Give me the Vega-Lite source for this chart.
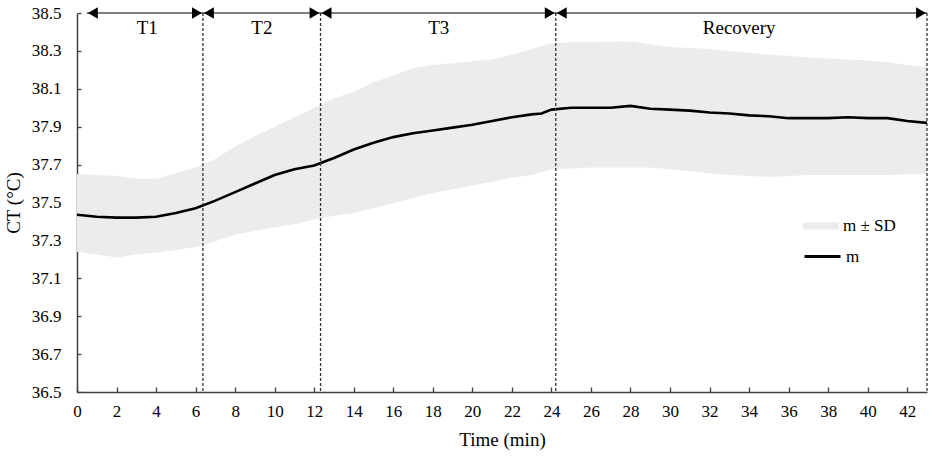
{
  "$schema": "https://vega.github.io/schema/vega-lite/v6.json",
  "width": 850,
  "height": 379,
  "autosize": {"type": "none"},
  "padding": {"left": 77, "top": 13, "right": 8, "bottom": 65},
  "background": "white",
  "datasets": {
    "ct": [
      {"t": 0, "m": 37.435, "lo": 37.24, "hi": 37.65},
      {"t": 1, "m": 37.425, "lo": 37.225, "hi": 37.645},
      {"t": 2, "m": 37.42, "lo": 37.21, "hi": 37.64},
      {"t": 3, "m": 37.42, "lo": 37.225, "hi": 37.625},
      {"t": 4, "m": 37.425, "lo": 37.235, "hi": 37.625},
      {"t": 5, "m": 37.445, "lo": 37.25, "hi": 37.655},
      {"t": 6, "m": 37.47, "lo": 37.265, "hi": 37.685},
      {"t": 7, "m": 37.51, "lo": 37.295, "hi": 37.73},
      {"t": 8, "m": 37.555, "lo": 37.33, "hi": 37.795},
      {"t": 9, "m": 37.6, "lo": 37.35, "hi": 37.85},
      {"t": 10, "m": 37.645, "lo": 37.37, "hi": 37.9},
      {"t": 11, "m": 37.675, "lo": 37.385, "hi": 37.95},
      {"t": 12, "m": 37.695, "lo": 37.41, "hi": 38.0},
      {"t": 13, "m": 37.735, "lo": 37.43, "hi": 38.05},
      {"t": 14, "m": 37.78, "lo": 37.445, "hi": 38.085},
      {"t": 15, "m": 37.815, "lo": 37.47, "hi": 38.135},
      {"t": 16, "m": 37.845, "lo": 37.495, "hi": 38.17},
      {"t": 17, "m": 37.865, "lo": 37.525, "hi": 38.21},
      {"t": 18, "m": 37.88, "lo": 37.55, "hi": 38.225},
      {"t": 19, "m": 37.895, "lo": 37.57, "hi": 38.235},
      {"t": 20, "m": 37.91, "lo": 37.59, "hi": 38.245},
      {"t": 21, "m": 37.93, "lo": 37.61, "hi": 38.255},
      {"t": 22, "m": 37.95, "lo": 37.63, "hi": 38.28},
      {"t": 23, "m": 37.965, "lo": 37.645, "hi": 38.31},
      {"t": 23.5, "m": 37.97, "lo": 37.66, "hi": 38.325},
      {"t": 24, "m": 37.99, "lo": 37.675, "hi": 38.34},
      {"t": 25, "m": 38.0, "lo": 37.68, "hi": 38.345},
      {"t": 26, "m": 38.0, "lo": 37.685, "hi": 38.345},
      {"t": 27, "m": 38.0, "lo": 37.685, "hi": 38.35},
      {"t": 28, "m": 38.01, "lo": 37.685, "hi": 38.35},
      {"t": 29, "m": 37.995, "lo": 37.685, "hi": 38.335},
      {"t": 30, "m": 37.99, "lo": 37.675, "hi": 38.32},
      {"t": 31, "m": 37.985, "lo": 37.665, "hi": 38.315},
      {"t": 32, "m": 37.975, "lo": 37.655, "hi": 38.31},
      {"t": 33, "m": 37.97, "lo": 37.645, "hi": 38.3},
      {"t": 34, "m": 37.96, "lo": 37.64, "hi": 38.29},
      {"t": 35, "m": 37.955, "lo": 37.635, "hi": 38.28},
      {"t": 36, "m": 37.945, "lo": 37.64, "hi": 38.275},
      {"t": 37, "m": 37.945, "lo": 37.645, "hi": 38.265},
      {"t": 38, "m": 37.945, "lo": 37.645, "hi": 38.26},
      {"t": 39, "m": 37.95, "lo": 37.645, "hi": 38.255},
      {"t": 40, "m": 37.945, "lo": 37.645, "hi": 38.25},
      {"t": 41, "m": 37.945, "lo": 37.645, "hi": 38.24},
      {"t": 42, "m": 37.93, "lo": 37.648, "hi": 38.225},
      {"t": 43, "m": 37.92, "lo": 37.65, "hi": 38.215}
    ],
    "phases": [
      {"phase": "T1", "start": 0.5, "end": 6.37, "mid": 3.55},
      {"phase": "T2", "start": 6.37, "end": 12.32, "mid": 9.35},
      {"phase": "T3", "start": 12.32, "end": 24.22, "mid": 18.3},
      {"phase": "Recovery", "start": 24.22, "end": 43, "mid": 33.5}
    ]
  },
  "encoding": {
    "x": {
      "type": "quantitative",
      "scale": {"domain": [0, 43], "nice": false, "zero": false},
      "axis": {
        "title": "Time (min)",
        "values": [0, 2, 4, 6, 8, 10, 12, 14, 16, 18, 20, 22, 24, 26, 28, 30, 32, 34, 36, 38, 40, 42],
        "grid": false,
        "tickSize": -5,
        "labelPadding": 16,
        "titlePadding": 11,
        "labelOverlap": false
      }
    },
    "y": {
      "type": "quantitative",
      "scale": {"domain": [36.5, 38.5], "nice": false, "zero": false},
      "axis": {
        "title": "CT (°C)",
        "values": [36.5, 36.7, 36.9, 37.1, 37.3, 37.5, 37.7, 37.9, 38.1, 38.3, 38.5],
        "format": ".1f",
        "grid": false,
        "tickSize": -4,
        "labelPadding": 20,
        "titlePadding": 8,
        "labelOverlap": false,
        "labelFontSize": 17
      }
    }
  },
  "layer": [
    {
      "data": {"name": "ct"},
      "mark": {"type": "area", "opacity": 1},
      "encoding": {
        "x": {"field": "t", "type": "quantitative"},
        "y": {"field": "lo", "type": "quantitative"},
        "y2": {"field": "hi"},
        "fill": {
          "datum": "m ± SD",
          "scale": {"domain": ["m ± SD"], "range": ["#ececec"]},
          "legend": {
            "title": null,
            "orient": "none",
            "legendX": 726,
            "legendY": 195,
            "symbolType": "M-1,-0.2L1,-0.2L1,0.2L-1,0.2Z",
            "symbolSize": 1296,
            "symbolStrokeWidth": 0,
            "labelOffset": 4
          }
        }
      }
    },
    {
      "data": {"name": "ct"},
      "mark": {"type": "line", "strokeWidth": 2.6},
      "encoding": {
        "x": {"field": "t", "type": "quantitative"},
        "y": {"field": "m", "type": "quantitative"},
        "stroke": {
          "datum": "m",
          "scale": {"domain": ["m"], "range": ["#000000"]},
          "legend": {
            "title": null,
            "orient": "none",
            "legendX": 726,
            "legendY": 224,
            "symbolType": "stroke",
            "symbolSize": 1296,
            "symbolStrokeWidth": 3,
            "labelOffset": 4
          }
        }
      }
    },
    {
      "data": {"name": "phases"},
      "mark": {"type": "rule", "strokeDash": [3, 2], "strokeWidth": 1.3, "color": "#333333"},
      "encoding": {
        "x": {"field": "end", "type": "quantitative"},
        "y": null
      }
    },
    {
      "data": {"name": "phases"},
      "mark": {"type": "rule", "strokeWidth": 1, "color": "#000000"},
      "encoding": {
        "x": {"field": "start", "type": "quantitative"},
        "x2": {"field": "end"},
        "y": {"datum": 38.5}
      }
    },
    {
      "data": {"name": "phases"},
      "mark": {"type": "point", "shape": "triangle-left", "filled": true, "size": 130, "color": "#000000", "opacity": 1, "xOffset": 6},
      "encoding": {
        "x": {"field": "start", "type": "quantitative"},
        "y": {"datum": 38.5}
      }
    },
    {
      "data": {"name": "phases"},
      "mark": {"type": "point", "shape": "triangle-right", "filled": true, "size": 130, "color": "#000000", "opacity": 1, "xOffset": -6},
      "encoding": {
        "x": {"field": "end", "type": "quantitative"},
        "y": {"datum": 38.5}
      }
    },
    {
      "data": {"name": "phases"},
      "mark": {"type": "text", "font": "Liberation Serif", "fontSize": 19, "color": "#000000", "baseline": "middle", "align": "center"},
      "encoding": {
        "x": {"field": "mid", "type": "quantitative"},
        "y": {"datum": 38.42},
        "text": {"field": "phase"}
      }
    }
  ],
  "config": {
    "view": {"stroke": null},
    "font": "Liberation Serif",
    "axis": {
      "labelFont": "Liberation Serif",
      "titleFont": "Liberation Serif",
      "labelFontSize": 17,
      "titleFontSize": 19,
      "titleFontWeight": "normal",
      "labelColor": "#000000",
      "titleColor": "#000000",
      "domainColor": "#404040",
      "domainWidth": 1.5,
      "tickColor": "#404040",
      "tickWidth": 1.3,
      "labelFlush": false,
      "labelOverlap": false
    },
    "legend": {
      "labelFont": "Liberation Serif",
      "labelFontSize": 17,
      "labelColor": "#000000",
      "padding": 0
    }
  }
}
